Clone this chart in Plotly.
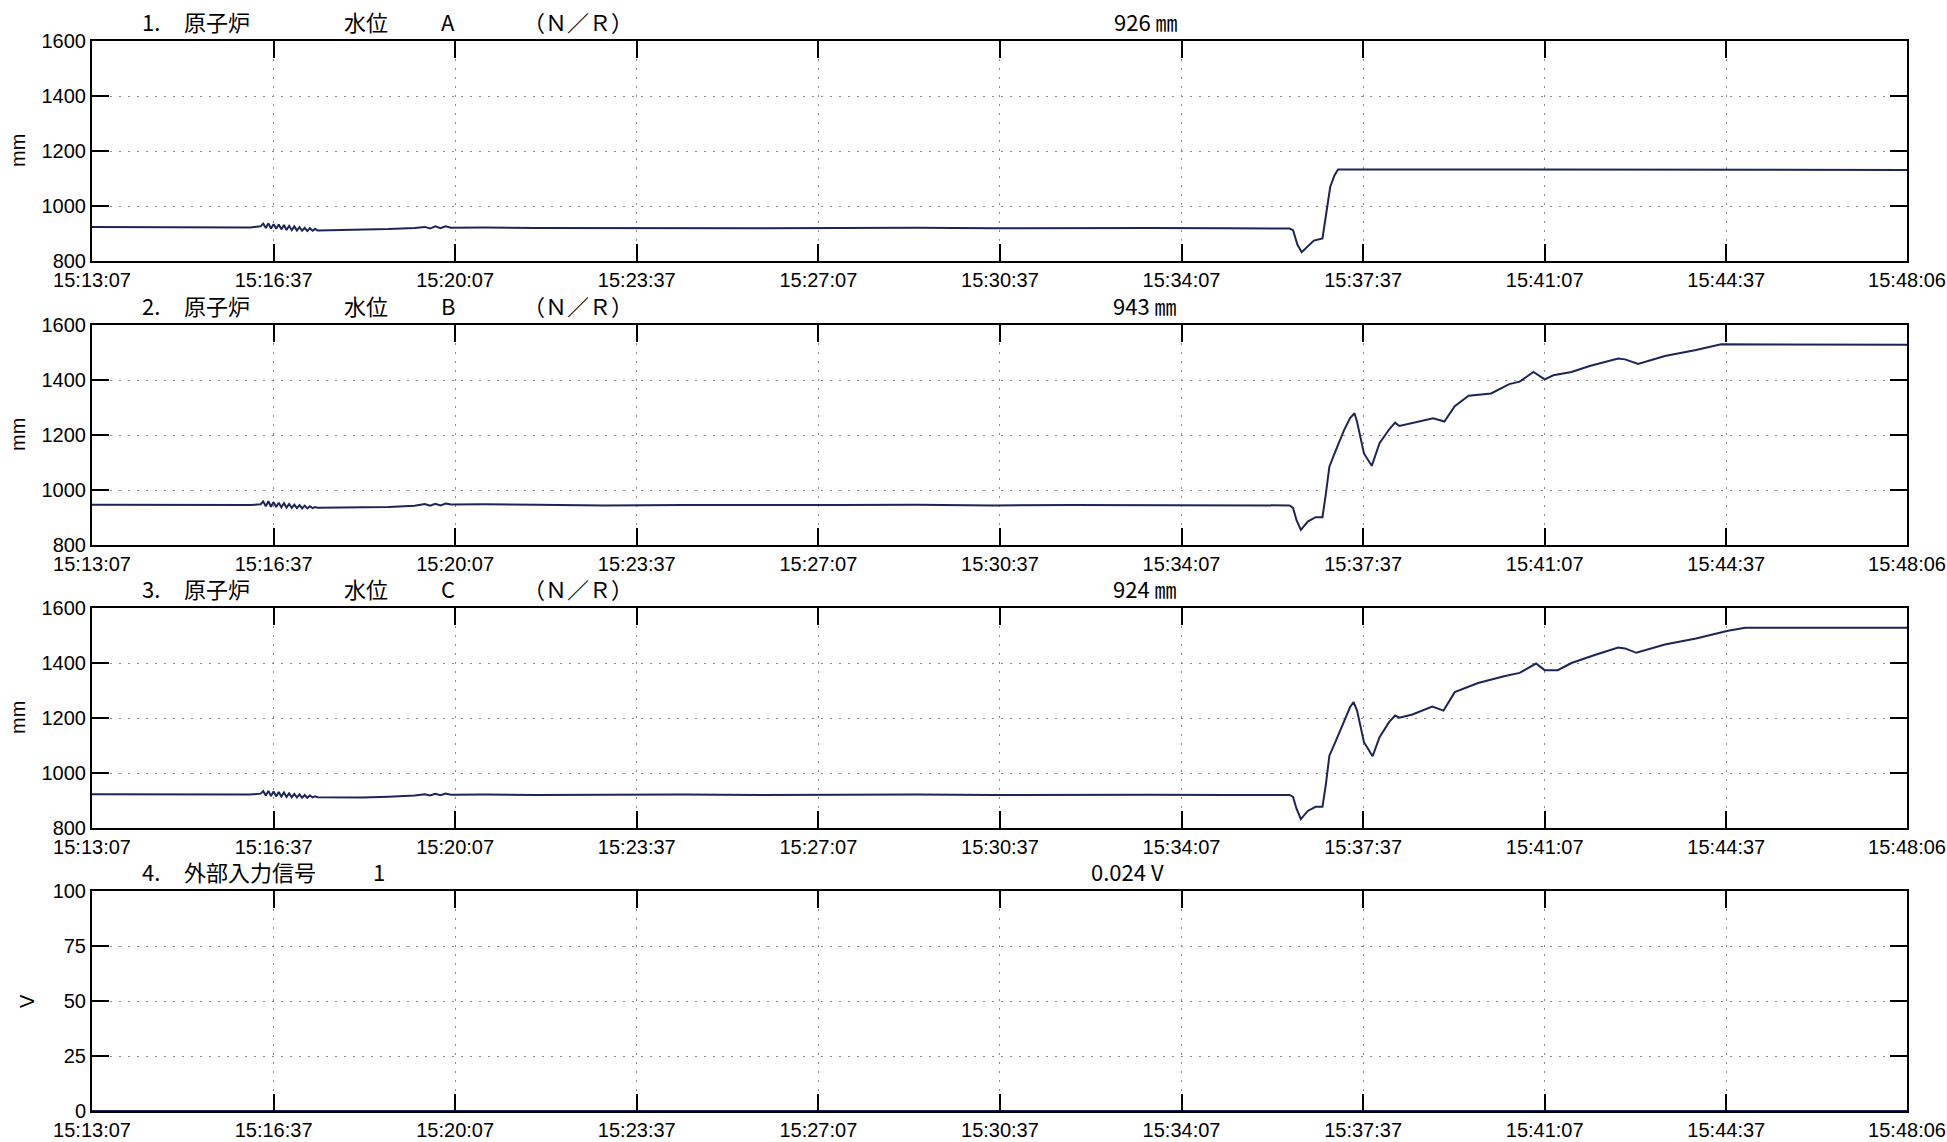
import plotly.graph_objects as go

DAY = "2011-03-11 "
X_START, X_END = "15:13:07", "15:48:06"
TICK_TIMES = ["15:13:07", "15:16:37", "15:20:07", "15:23:37", "15:27:07", "15:30:37",
              "15:34:07", "15:37:37", "15:41:07", "15:44:37", "15:48:06"]

# quiet period before the event (shared sample times for the three level channels)
PRE_TIMES = ["15:13:07", "15:14:10", "15:15:20", "15:16:10",
             "15:16:22", "15:16:25", "15:16:28", "15:16:31", "15:16:34", "15:16:37", "15:16:40",
             "15:16:43", "15:16:46", "15:16:49", "15:16:52", "15:16:55", "15:16:58", "15:17:01",
             "15:17:04", "15:17:07", "15:17:10", "15:17:13", "15:17:16", "15:17:19", "15:17:22",
             "15:17:25", "15:17:28",
             "15:17:50", "15:18:20", "15:18:50", "15:19:20", "15:19:32", "15:19:38", "15:19:44",
             "15:19:50", "15:19:56", "15:20:02", "15:20:40", "15:21:40", "15:23:00", "15:24:30",
             "15:26:00", "15:27:30", "15:29:00", "15:30:30", "15:32:00", "15:33:30", "15:35:00",
             "15:36:12"]

A_PRE = [924, 923, 923, 922,
         926, 936, 920, 937, 918, 934, 917, 933, 915, 931, 913, 928, 912, 926, 911, 923,
         910, 921, 909, 919, 910, 917, 911,
         912, 914, 916, 920, 924, 918, 926, 919, 926, 921, 922, 920, 919, 920, 919, 920,
         921, 919, 920, 920, 919, 918]
B_PRE = [946, 945, 945, 945,
         948, 958, 941, 959, 939, 956, 938, 954, 937, 952, 936, 949, 935, 947, 934, 945,
         933, 943, 933, 941, 934, 938, 935,
         936, 935, 938, 943, 949, 943, 950, 944, 951, 947, 948, 946, 944, 945, 944, 945,
         946, 944, 945, 945, 944, 944]
C_PRE = [923, 922, 922, 922,
         925, 934, 918, 935, 916, 933, 915, 931, 914, 929, 913, 926, 912, 924, 911, 922,
         910, 920, 910, 918, 911, 915, 912,
         912, 911, 914, 918, 923, 918, 924, 919, 925, 921, 922, 920, 921, 922, 920, 921,
         922, 920, 921, 921, 920, 920]

# tsunami arrival and after
A_EVENT_TIMES = ["15:36:16", "15:36:21", "15:36:26", "15:36:33", "15:36:40", "15:36:50",
                 "15:36:54", "15:36:59", "15:37:04", "15:37:08", "15:48:06"]
A_EVENT = [912, 860, 832, 852, 874, 882, 960, 1070, 1112, 1133, 1131]

B_EVENT_TIMES = ["15:36:16", "15:36:20", "15:36:25", "15:36:33", "15:36:42", "15:36:50",
                 "15:36:54", "15:36:58", "15:37:04", "15:37:15", "15:37:22", "15:37:27",
                 "15:37:30", "15:37:34", "15:37:38", "15:37:47", "15:37:56", "15:38:07",
                 "15:38:14", "15:38:19", "15:38:37", "15:38:58", "15:39:11", "15:39:23",
                 "15:39:39", "15:40:05", "15:40:26", "15:40:38", "15:40:54", "15:41:07",
                 "15:41:17", "15:41:38", "15:41:59", "15:42:32", "15:42:40", "15:42:55",
                 "15:43:26", "15:44:02", "15:44:31", "15:48:06"]
B_EVENT = [935, 890, 855, 885, 901, 901, 988, 1085, 1133, 1218,
           1262, 1279, 1248, 1190, 1133, 1088, 1170, 1220, 1245, 1233,
           1247, 1261, 1249, 1305, 1343, 1351, 1385, 1394, 1429, 1402,
           1417, 1429, 1451, 1478, 1475, 1458, 1487, 1509, 1530, 1528]

C_EVENT_TIMES = ["15:36:16", "15:36:20", "15:36:25", "15:36:33", "15:36:42", "15:36:50",
                 "15:36:54", "15:36:58", "15:37:04", "15:37:15", "15:37:22", "15:37:26",
                 "15:37:30", "15:37:34", "15:37:38", "15:37:48", "15:37:56", "15:38:07",
                 "15:38:14", "15:38:19", "15:38:34", "15:38:57", "15:39:10", "15:39:23",
                 "15:39:50", "15:40:20", "15:40:38", "15:40:57", "15:41:07", "15:41:22",
                 "15:41:38", "15:42:04", "15:42:32", "15:42:40", "15:42:53", "15:43:26",
                 "15:44:02", "15:44:39", "15:44:59", "15:48:06"]
C_EVENT = [913, 870, 832, 862, 877, 877, 960, 1063, 1106, 1191,
           1240, 1258, 1227, 1170, 1112, 1061, 1130, 1185, 1209, 1201,
           1213, 1242, 1227, 1294, 1327, 1352, 1364, 1398, 1374, 1374,
           1400, 1428, 1456, 1453, 1437, 1467, 1489, 1517, 1528, 1528]

EXT_TIMES = ["15:13:07", "15:48:06"]
EXT_V = [0.024, 0.024]

TITLES = [["1.", "原子炉", "水位", "A", "（Ｎ／Ｒ）"],
          ["2.", "原子炉", "水位", "B", "（Ｎ／Ｒ）"],
          ["3.", "原子炉", "水位", "C", "（Ｎ／Ｒ）"],
          ["4.", "外部入力信号", "1"]]
READINGS = ["926 ㎜", "943 ㎜", "924 ㎜", "0.024 V"]
UNITS = ["mm", "mm", "mm", "V"]
Y_TICKS = [[800, 1000, 1200, 1400, 1600]] * 3 + [[0, 25, 50, 75, 100]]

series = [
    (PRE_TIMES + A_EVENT_TIMES, A_PRE + A_EVENT),
    (PRE_TIMES + B_EVENT_TIMES, B_PRE + B_EVENT),
    (PRE_TIMES + C_EVENT_TIMES, C_PRE + C_EVENT),
    (EXT_TIMES, EXT_V),
]

# page geometry (pixels)
W, H = 1947, 1142
LEFT, RIGHT = 92, 1907
TOPS = [41, 325, 608, 891]
PANEL_H = 220
TITLE_X = [[140, 182, 342, 439, 521]] * 3 + [[140, 182, 371]]
READING_X = [1146, 1145, 1145, 1127]
UNIT_X = [18, 18, 18, 27]

NAVY = "#1d2556"
LATIN = "Liberation Sans, Arial, sans-serif"
CJK = "Noto Sans CJK JP, sans-serif"

axis_style = dict(showline=True, linecolor="black", linewidth=2, mirror="ticks",
                  ticks="inside", ticklen=17, tickwidth=1.5, tickcolor="black",
                  showgrid=True, gridcolor="#8c8c8c", gridwidth=1, griddash="2px,7px",
                  zeroline=False, automargin=False,
                  tickfont=dict(family=LATIN, size=20, color="black"))

fig = go.Figure()
layout = dict(width=W, height=H, margin=dict(l=0, r=0, t=0, b=0, autoexpand=False),
              paper_bgcolor="white", plot_bgcolor="white", showlegend=False)
annotations = []

for i, (times, vals) in enumerate(series):
    n = "" if i == 0 else str(i + 1)
    fig.add_trace(go.Scatter(x=[DAY + t for t in times], y=vals, mode="lines",
                             line=dict(color=NAVY, width=2),
                             xaxis="x" + n, yaxis="y" + n, hoverinfo="skip"))
    top = TOPS[i]
    bottom = top + PANEL_H
    ydom = [1 - bottom / H, 1 - top / H]
    layout["xaxis" + n] = dict(axis_style, type="date", anchor="y" + n,
                               domain=[LEFT / W, RIGHT / W],
                               range=[DAY + X_START, DAY + X_END],
                               tickvals=[DAY + t for t in TICK_TIMES], ticktext=TICK_TIMES)
    yt = Y_TICKS[i]
    layout["yaxis" + n] = dict(axis_style, anchor="x" + n, domain=ydom,
                               range=[yt[0], yt[-1]], tickvals=yt,
                               ticktext=[str(v) for v in yt])

    ty = 1 - (top - 20) / H
    for text, px in zip(TITLES[i], TITLE_X[i]):
        annotations.append(dict(text=text, x=px / W, y=ty, xref="paper", yref="paper",
                                xanchor="left", yanchor="middle", showarrow=False,
                                font=dict(family=CJK, size=22, color="black")))
    annotations.append(dict(text=READINGS[i], x=READING_X[i] / W, y=ty,
                            xref="paper", yref="paper", xanchor="center", yanchor="middle",
                            showarrow=False, font=dict(family=CJK, size=22, color="black")))
    annotations.append(dict(text=UNITS[i], x=UNIT_X[i] / W, y=1 - (top + PANEL_H / 2) / H,
                            xref="paper", yref="paper", xanchor="center", yanchor="middle",
                            textangle=-90, showarrow=False,
                            font=dict(family=LATIN, size=20, color="black")))

layout["annotations"] = annotations
fig.update_layout(**layout)
# drop the browser's default body margin so the figure sits at the page corner
fig.write_html("out.html", config={"displayModeBar": False},
               post_script="document.body.style.margin='0';")
